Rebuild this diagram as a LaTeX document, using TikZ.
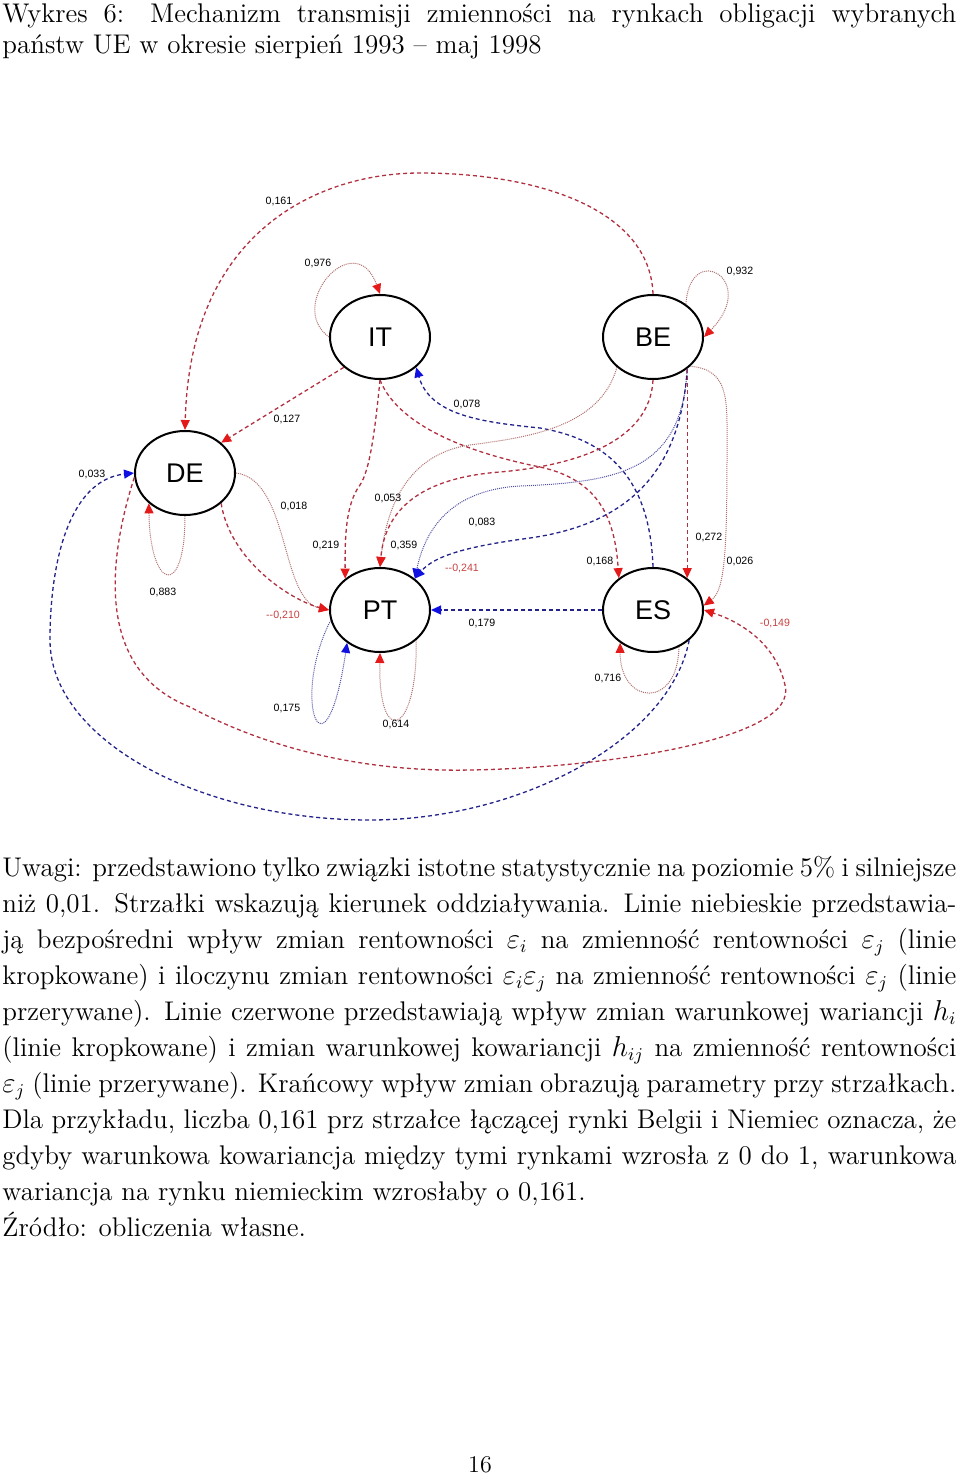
\documentclass[tikz,border=0pt]{standalone}
\usepackage{fontspec}
\newfontfamily\arialf{Liberation Sans}
\usetikzlibrary{arrows.meta,shapes.geometric}
\definecolor{covred}{HTML}{B03040}
\definecolor{varred}{HTML}{B07070}
\definecolor{tipred}{HTML}{E41A1A}
\definecolor{negred}{HTML}{C84040}
\definecolor{prodblue}{HTML}{22228A}
\definecolor{dirblue}{HTML}{5050A0}
\definecolor{tipblue}{HTML}{1010E0}
\setlength{\parindent}{0pt}

\begin{document}
\begin{tikzpicture}[
  x=0.5pt,y=-0.5pt,
  mkt/.style={draw,ellipse,line width=1pt,minimum width=50pt,minimum height=42pt,inner sep=0pt,font=\arialf\fontsize{13.5}{14}\selectfont},
  cov/.style={draw=covred,line width=0.65pt,dash pattern=on 2pt off 1.5pt,-{Triangle[length=5pt,width=4.5pt,color=tipred]}},
  var/.style={draw=varred,line width=0.5pt,dash pattern=on 0.5pt off 0.5pt,-{Triangle[length=5pt,width=4.5pt,color=tipred]}},
  prod/.style={draw=prodblue,line width=0.65pt,dash pattern=on 2pt off 1.5pt,-{Triangle[length=5pt,width=4.5pt,color=tipblue]}},
  dir/.style={draw=dirblue,line width=0.5pt,dash pattern=on 0.5pt off 0.5pt,-{Triangle[length=5pt,width=4.5pt,color=tipblue]}},
  lab/.style={inner sep=0pt,font=\arialf\fontsize{5.3}{6}\selectfont},
  neg/.style={lab,text=negred},
  txt/.style={anchor=north west,inner sep=0pt,text width=477pt,align=justify,font=\fontsize{13.5}{18}\selectfont},
]
\useasboundingbox (0,0) rectangle (960,1476);

% caption
\node[txt,font=\fontsize{13.5}{15.5}\selectfont] (title) at (2,3) {Wykres 6: Mechanizm transmisji zmienności na rynkach obligacji wybranych\linebreak
państw UE w okresie sierpień 1993 -- maj 1998\par};

% markets
\node[mkt] (IT) at (380,337) {IT};
\node[mkt] (BE) at (653,337) {BE};
\node[mkt] (DE) at (185,473) {DE};
\node[mkt] (PT) at (380,610) {PT};
\node[mkt] (ES) at (653,610) {ES};

% links
\draw[cov] (BE.north) .. controls (650,210) and (540,173) .. (420,173) .. controls (320,173) and (190,230) .. (DE.north);
\draw[var] (IT.west) .. controls (285,305) and (355,225) .. (IT.north);
\draw[var] (BE.45) .. controls (690,240) and (760,280) .. (BE.east);
\draw[cov] (IT.220) -- (DE.40);
\draw[prod] (ES.north) .. controls (650,480) and (610,440) .. (540,428) .. controls (480,422) and (430,415) .. (IT.-40);
\draw[var] (DE.south) .. controls (185,600) and (150,590) .. (DE.-140);
\draw[prod] (ES.-40) .. controls (670,740) and (520,820) .. (370,820) .. controls (200,820) and (50,740) .. (50,640) .. controls (50,560) and (70,480) .. (DE.west);
\draw[cov] (DE.185) .. controls (108,560) and (95,670) .. (190,707) .. controls (280,755) and (380,772) .. (470,770) .. controls (600,768) and (800,740) .. (785,685) .. controls (775,640) and (735,620) .. (ES.east);
\draw[var] (DE.east) .. controls (290,480) and (280,600) .. (PT.west);
\draw[cov] (DE.-40) .. controls (230,560) and (290,600) .. (PT.west);
\draw[cov] (IT.south) .. controls (375,430) and (370,470) .. (360,485) .. controls (345,505) and (345,540) .. (PT.138);
\draw[cov] (IT.south) .. controls (400,430) and (480,455) .. (540,467) .. controls (600,480) and (615,520) .. (ES.137);
\draw[var] (BE.-140) .. controls (600,430) and (520,438) .. (470,445) .. controls (400,455) and (385,520) .. (PT.north);
\draw[cov] (BE.south) .. controls (650,440) and (580,465) .. (500,472) .. controls (420,478) and (385,510) .. (PT.north);
\draw[dir] (BE.-43) .. controls (682,470) and (620,482) .. (520,486) .. controls (450,490) and (425,530) .. (PT.42);
\draw[prod] (BE.-43) .. controls (680,480) and (620,525) .. (530,538) .. controls (470,546) and (435,555) .. (PT.42);
\draw[cov] (BE.-43) -- (ES.43);
\draw[var] (BE.-38) .. controls (730,370) and (727,400) .. (727,450) .. controls (727,550) and (725,590) .. (ES.5);
\draw[prod] (ES.west) -- (PT.east);
\draw[dir] (PT.192) .. controls (290,700) and (325,790) .. (PT.-135);
\draw[var] (PT.-40) .. controls (418,735) and (378,750) .. (PT.south);
\draw[var] (ES.-55) .. controls (678,710) and (620,705) .. (ES.-135);

% parameters
\node[lab] (l161) at (279,201) {0,161};
\node[lab] (l976) at (318,263) {0,976};
\node[lab] (l932) at (740,271) {0,932};
\node[lab] (l127) at (287,419) {0,127};
\node[lab] (l078) at (467,404) {0,078};
\node[lab] (l033) at (92,474) {0,033};
\node[lab] (l018) at (294,506) {0,018};
\node[lab] (l053) at (388,498) {0,053};
\node[lab] (l219) at (326,545) {0,219};
\node[lab] (l359) at (404,545) {0,359};
\node[lab] (l083) at (482,522) {0,083};
\node[neg] (lm241) at (462,568) {-{}-0,241};
\node[lab] (l168) at (600,561) {0,168};
\node[lab] (l272) at (709,537) {0,272};
\node[lab] (l026) at (740,561) {0,026};
\node[lab] (l883) at (163,592) {0,883};
\node[neg] (lm210) at (283,615) {-{}-0,210};
\node[lab] (l179) at (482,623) {0,179};
\node[neg] (lm149) at (775,623) {-0,149};
\node[lab] (l716) at (608,678) {0,716};
\node[lab] (l175) at (287,708) {0,175};
\node[lab] (l614) at (396,724) {0,614};

% notes
\node[txt] (notes) at (2,856) {Uwagi: przedstawiono tylko związki istotne statystycznie na poziomie 5\% i silniejsze\linebreak
niż 0,01. Strzałki wskazują kierunek oddziaływania. Linie niebieskie przedstawia-\linebreak
ją bezpośredni wpływ zmian rentowności $\varepsilon_i$ na zmienność rentowności $\varepsilon_j$ (linie\linebreak
kropkowane) i iloczynu zmian rentowności $\varepsilon_i\varepsilon_j$ na zmienność rentowności $\varepsilon_j$ (linie\linebreak
przerywane). Linie czerwone przedstawiają wpływ zmian warunkowej wariancji $h_i$\linebreak
(linie kropkowane) i zmian warunkowej kowariancji $h_{ij}$ na zmienność rentowności\linebreak
$\varepsilon_j$ (linie przerywane). Krańcowy wpływ zmian obrazują parametry przy strzałkach.\linebreak
Dla przykładu, liczba 0,161 prz strzałce łączącej rynki Belgii i Niemiec oznacza, że\linebreak
gdyby warunkowa kowariancja między tymi rynkami wzrosła z 0 do 1, warunkowa\linebreak
wariancja na rynku niemieckim wzrosłaby o 0,161.\par
Źródło: obliczenia własne.\par};

\node[anchor=base,inner sep=0pt,font=\fontsize{12}{14.5}\selectfont] (page) at (480,1472) {16};
\end{tikzpicture}
\end{document}
